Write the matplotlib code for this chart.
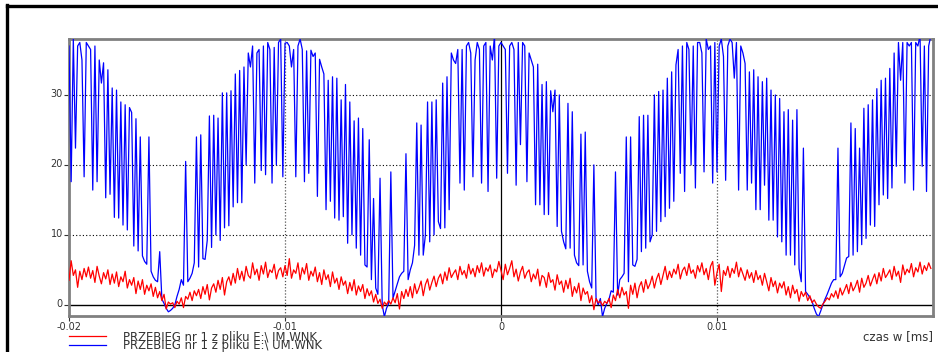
import numpy as np
import matplotlib
matplotlib.use("Agg")
import matplotlib.pyplot as plt
import matplotlib.transforms as mtransforms
from matplotlib.lines import Line2D

plt.rcParams['font.family'] = ['DejaVu Sans']

# time axis
t_start = -0.02
dt = 0.0001

# ---- blue: UM (voltage) ----
blue_p1 = [37, 17.6, 38, 22.4, 37, 37.5, 35, 18.3, 37.5, 37,
           36.5, 16.4, 37, 17.6, 35, 31.7, 34.6, 15.3, 33.6, 15.8,
           31, 12.5, 30.7, 12.4, 29, 11.4, 28.6, 10.7, 28.2, 27.5,
           8.4, 26.6, 7.7, 24, 7.0, 6.2, 5.8, 24, 4.8, 4.0,
           3.5, 3.3, 7.6, 0.8, 0.2, -0.5, -1.0, -0.8, -0.5, 0,
           1.2, 2.2, 3.6, 2.8, 20.5, 3.3, 3.8, 4.5, 6.0, 24,
           5.4, 24.3, 6.6, 6.5, 9.2, 27, 8.2, 27.1, 10, 26.7,
           9.2, 30.3, 11, 30.3, 11.3, 30.6, 14, 33, 14.6, 33.5,
           14.6, 34, 20, 36, 34, 37, 17.4, 36, 36.5, 19.2,
           37, 18.6, 37.5, 36.5, 17.4, 36.8, 20, 37.5, 38, 18.3]
blue_p2 = [37.4, 37.5, 37, 34, 36.5, 18.3, 37, 38, 36.5, 17.6,
           36.3, 18.8, 36.4, 35.5, 36, 15.5, 35.1, 34, 33, 13.6,
           32.1, 14.8, 32.6, 12.4, 32.4, 12.1, 29.3, 12.6, 31.5, 8.8,
           29, 10, 26.3, 8.1, 26.7, 7.1, 25.2, 5.7, 5.4, 23.6,
           3.6, 15.2, 2.4, 1.5, 18.1, 0, -1.7, -0.5, 0.2, 19,
           0.95, 2, 3, 4, 4.5, 4.8, 21.6, 3.6, 5, 6,
           8.5, 26, 7.1, 25.7, 7.1, 10, 29, 9, 29, 10,
           29.3, 11.9, 10.9, 31.7, 11, 32.6, 13.6, 36, 35, 34.5,
           36.5, 17.4, 36.5, 16.4, 37, 37.5, 36, 18.3, 35, 37.5,
           36.5, 17.4, 37, 37.5, 16.2, 37, 35, 38.5, 18.1, 37]
blue_p3 = [37.5, 37, 36.5, 18.8, 37, 37.5, 36.5, 17.1, 37.5, 22.9,
           37.5, 37, 17.6, 36, 35, 34, 14.3, 34.4, 14.3, 31.5,
           12.9, 31.9, 12.9, 30.6, 27.6, 30.7, 11.2, 30, 10.5, 9,
           8, 28.8, 8.1, 27.6, 7.1, 6, 5.6, 24.4, 5.7, 24.7,
           4.8, 3.3, 2.4, 20, 0.95, 0, 0.9, -1.7, -0.5, 0.2,
           0.8, 2, 1.8, 19, 1.4, 3.6, 4, 4.5, 24, 3.3,
           24, 5.7, 5.5, 6.5, 26.9, 7.6, 27.1, 8.1, 27.1, 9,
           10, 30, 10.5, 30.5, 11.9, 30.7, 12.6, 32.4, 13.8, 33.3,
           14.8, 34.3, 36.5, 18.8, 37, 16.2, 37.5, 36.5, 20, 37,
           16.7, 37.5, 37.5, 36, 19, 38, 36.5, 37, 17.4, 37.5]
blue_p4 = [19, 37, 38, 35.5, 17.8, 37, 38, 37.5, 32.4, 37.5,
           16.4, 37, 36, 34.5, 16.4, 33.3, 17.4, 33.6, 13.6, 32.6,
           13.6, 31.9, 17.1, 32.4, 12.1, 30.7, 12.1, 30, 9.7, 29.5,
           9, 27.6, 7.1, 27.9, 7.1, 26.4, 5.7, 27.9, 5.2, 3.3,
           22.4, 1.9, 1.5, 1, 0.5, -0.5, -1.3, -1.7, -0.9, 0,
           0.8, 1.5, 2.3, 3.1, 3.6, 3.6, 22.4, 4.0, 4.5, 5.6,
           6.7, 6.9, 26, 7.1, 25.2, 7.6, 22.4, 8.6, 28.1, 9.5,
           28.6, 11.4, 29.3, 11.2, 30.9, 14.3, 32.1, 15.7, 32.4, 15.2,
           33.8, 16.7, 36, 19.8, 37.5, 32.1, 37.5, 17.4, 37.5, 37,
           37.5, 16.4, 37.5, 37, 38.5, 19.8, 37, 16.2, 37, 38.5]

# ---- red: IM (current) ----
red_p1 = [3.5, 6.3, 4.2, 5.0, 2.5, 4.8, 3.6, 5.2, 4.0, 5.4,
          3.8, 4.9, 3.2, 5.5, 4.1, 3.0, 4.6, 3.7, 5.0, 2.9,
          4.4, 3.1, 4.7, 2.6, 4.0, 3.3, 4.8, 2.4, 3.6, 2.8,
          3.9, 1.6, 3.4, 2.2, 3.6, 1.5, 2.8, 2.0, 3.0, 1.2,
          2.5, 1.0, 1.9, 0.6, 1.5, -0.6, 0.4, 0.1, 0.3, -0.4,
          0.5, 0.1, 1.0, -0.4, 1.2, 0.8, 1.8, 0.6, 2.0, 1.3,
          2.2, 0.9, 2.6, 1.5, 2.9, 0.7, 2.4, 3.0, 1.8, 3.5,
          2.2, 3.9, 1.4, 3.3, 4.0, 2.8, 4.5, 3.1, 5.2, 3.6,
          4.8, 3.4, 5.5, 4.2, 3.8, 6.0, 4.3, 5.1, 3.5, 5.6,
          4.4, 6.1, 3.9, 5.0, 4.6, 5.8, 3.7, 4.9, 5.3, 4.0]
red_p2 = [5.6, 4.2, 6.6, 3.8, 5.0, 4.5, 6.0, 3.6, 5.3, 4.4,
          5.9, 3.5, 4.8, 4.1, 5.4, 3.3, 4.6, 2.9, 5.0, 3.6,
          4.3, 2.6, 4.7, 3.1, 3.8, 2.2, 4.0, 2.8, 3.4, 1.6,
          3.2, 2.0, 3.6, 1.4, 2.7, 1.9, 2.9, 0.9, 2.3, 1.3,
          2.0, 0.4, 1.5, 0.2, 0.8, -0.5, 0.4, 0.0, 0.6, 0.1,
          1.0, 0.3, 1.6, -0.6, 1.9, 0.9, 2.2, 1.2, 2.6, 1.0,
          3.0, 1.6, 2.4, 3.4, 1.3, 2.9, 3.7, 2.1, 3.2, 4.1,
          2.6, 3.8, 4.4, 3.0, 4.7, 3.5, 5.3, 3.9, 4.5, 5.0,
          3.6, 5.5, 4.3, 4.9, 3.8, 5.8, 4.4, 5.2, 4.0, 5.6,
          4.6, 6.0, 4.1, 5.3, 4.8, 5.7, 3.9, 5.1, 4.7, 6.2]
red_p3 = [4.9, 3.6, 5.8, 4.3, 5.2, 6.3, 4.0, 5.1, 3.4, 4.7,
          5.5, 3.8, 4.6, 5.0, 3.3, 4.4, 3.7, 5.1, 2.7, 4.2,
          3.9, 2.5, 4.6, 3.2, 3.6, 2.1, 4.3, 2.9, 3.4, 1.8,
          3.5, 2.3, 3.8, 1.2, 2.6, 1.7, 3.1, 0.6, 2.4, 1.5,
          1.9, 0.3, 1.3, -0.7, 0.9, 0.3, 0.5, -0.1, 0.5, 0.2,
          0.9, -0.4, 1.4, 0.6, 2.2, 1.0, 2.5, 1.4, 1.9, -0.5,
          2.8, 1.5, 3.1, 1.0, 2.6, 3.3, 1.8, 3.6, 2.3, 3.0,
          4.1, 2.4, 3.7, 4.5, 2.9, 4.2, 5.5, 3.6, 4.8, 3.9,
          5.1, 4.4, 5.8, 3.7, 4.9, 5.4, 4.2, 5.9, 4.5, 5.0,
          3.8, 5.6, 4.7, 6.0, 4.3, 5.2, 3.6, 5.5, 6.2, 2.8]
red_p4 = [4.6, 5.8, 1.9, 4.9, 4.2, 5.5, 3.9, 5.2, 4.5, 6.1,
          4.0, 5.3, 4.4, 3.5, 5.0, 3.8, 4.6, 3.2, 4.9, 3.6,
          4.2, 2.8, 4.5, 3.3, 2.0, 3.9, 2.6, 3.4, 1.7, 3.1,
          2.4, 3.3, 1.4, 2.6, 1.0, 2.8, 1.6, 2.2, 0.5, 1.9,
          1.2, 1.8, 0.6, 1.3, 0.3, 0.7, 0.1, -0.3, -0.5, 0.1,
          0.5, 1.0, 0.7, 1.6, 1.1, 2.0, 0.9, 2.4, 1.4, 2.1,
          2.9, 1.6, 3.2, 2.0, 2.6, 3.5, 1.8, 3.8, 2.5, 3.1,
          4.2, 2.7, 3.6, 4.4, 3.0, 4.6, 3.4, 5.2, 3.9, 4.4,
          5.0, 3.6, 5.5, 4.1, 4.8, 3.2, 5.7, 4.3, 5.1, 4.6,
          5.9, 4.0, 5.3, 4.7, 6.1, 4.4, 5.6, 4.9, 6.0, 5.2]

x_ticks = [-0.02, -0.01, 0, 0.01]
x_tick_labels = ["-0.02", "-0.01", "0", "0.01"]
y_ticks = [0, 10, 20, 30]
y_tick_labels = ["0", "10", "20", "30"]
legend_labels = ["PRZEBIEG nr 1 z pliku E:\\ IM.WNK",
                 "PRZEBIEG nr 1 z pliku E:\\ UM.WNK"]
x_label = "czas w [ms]"

blue = np.array(blue_p1 + blue_p2 + blue_p3 + blue_p4)
red = np.array(red_p1 + red_p2 + red_p3 + red_p4)
t_blue = t_start + dt * np.arange(len(blue))
t_red = t_start + dt * np.arange(len(red))

W, H = 938, 352
fig = plt.figure(figsize=(W / 100, H / 100), dpi=100)
fig.patch.set_facecolor('white')

ax = fig.add_axes([69 / W, 1 - 316 / H, (933 - 69) / W, (316 - 39) / H])
ax.set_xlim(-0.02, 0.02)
ax.set_ylim(-1.6, 38)

# grid
for yv in [10, 20, 30]:
    ax.axhline(yv, color='black', lw=0.8, ls=(0, (1, 2)), zorder=1)
for xv in [-0.01, 0.01]:
    ax.axvline(xv, color='#555555', lw=0.9, ls=(0, (1, 1.5)), zorder=1)
ax.axvline(0, color='black', lw=0.9, zorder=1)
ax.axhline(0, color='black', lw=1.0, zorder=1)

ax.plot(t_blue, blue, color='#0000ff', lw=0.9, zorder=3)
ax.plot(t_red, red, color='#ff0000', lw=0.9, zorder=4)

for s in ax.spines.values():
    s.set_color('#808080')
    s.set_linewidth(2.0)

ax.set_xticks(x_ticks)
ax.set_xticklabels(x_tick_labels)
ax.set_yticks(y_ticks)
ax.set_yticklabels(y_tick_labels)
ax.tick_params(axis='both', direction='out', length=3.5, width=0.8, color='#333333',
               labelsize=7, labelcolor='#333333', pad=1)
# y labels sit slightly above their grid lines
offset = mtransforms.ScaledTranslation(0, 2 / 100, fig.dpi_scale_trans)
for lbl in ax.get_yticklabels():
    lbl.set_transform(lbl.get_transform() + offset)

# outer black frame (left and top only visible)
fig.add_artist(Line2D([6.5 / W, 6.5 / W], [0, 1 - 5 / H], transform=fig.transFigure,
                      color='black', lw=2.4))
fig.add_artist(Line2D([6.5 / W, 1], [1 - 6 / H, 1 - 6 / H], transform=fig.transFigure,
                      color='black', lw=2.4))

# legend (manual, below the axes)
for k, (col, ypx, tpx) in enumerate([('#ff0000', 335.5, 341), ('#0000ff', 345, 349.5)]):
    fig.add_artist(Line2D([69 / W, 106 / W], [1 - ypx / H, 1 - ypx / H],
                          transform=fig.transFigure, color=col, lw=0.9))
    fig.text(123 / W, 1 - tpx / H, legend_labels[k], fontsize=8.4, color='#333333',
             ha='left', va='baseline')

fig.text(933 / W, 1 - 337 / H, x_label, fontsize=8.5, color='#333333', ha='right', va='center')

fig.savefig('out.png', dpi=100)
